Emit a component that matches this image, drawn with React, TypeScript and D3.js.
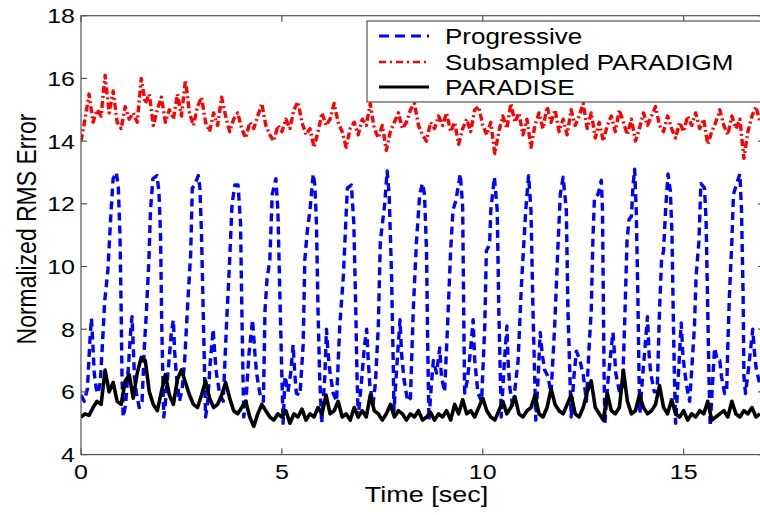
import React from 'react';
import * as d3 from 'd3';

// Progressive: key points (time in sec, normalized RMS error)
const progressiveTime = [
  0.0, 0.08, 0.16, 0.22, 0.26, 0.3, 0.33, 0.38, 0.42, 0.48, 0.55, 0.59, 0.67, 0.75, 0.8, 0.88, 0.93, 0.97, 1.0, 1.02, 1.05,
  1.11, 1.18, 1.24, 1.27, 1.3, 1.33, 1.38, 1.45, 1.52, 1.58, 1.63, 1.69, 1.73, 1.79, 1.89, 1.94, 1.98, 2.01, 2.06,
  2.09, 2.17, 2.25, 2.3, 2.33, 2.37, 2.45, 2.52, 2.58, 2.66, 2.73, 2.77, 2.83, 2.92, 2.96, 3.0, 3.05, 3.1,
  3.15, 3.22, 3.29, 3.33, 3.37, 3.45, 3.54, 3.62, 3.7, 3.76, 3.83, 3.91, 3.97, 4.01, 4.05,
  4.1, 4.18, 4.27, 4.33, 4.37, 4.45, 4.54, 4.58, 4.63, 4.7, 4.76, 4.85, 4.9, 4.95, 4.99, 5.03,
  5.08, 5.15, 5.22, 5.28, 5.32, 5.36, 5.45, 5.53, 5.57, 5.63, 5.7, 5.78, 5.82, 5.86, 5.9, 5.94, 5.99,
  6.07, 6.11, 6.15, 6.2, 6.28, 6.36, 6.44, 6.53, 6.59, 6.63, 6.73, 6.79, 6.84, 6.87, 6.9,
  6.98, 7.05, 7.11, 7.15, 7.19, 7.27, 7.33, 7.4, 7.45, 7.56, 7.62, 7.67, 7.73, 7.77, 7.79,
  7.86, 7.94, 7.98, 8.04, 8.13, 8.2, 8.27, 8.35, 8.43, 8.5, 8.55, 8.6, 8.63, 8.66,
  8.72, 8.77, 8.85, 8.93, 8.97, 9.05, 9.12, 9.2, 9.26, 9.33, 9.44, 9.5, 9.53, 9.55,
  9.62, 9.7, 9.76, 9.8, 9.88, 9.97, 10.05, 10.09, 10.17, 10.2, 10.29, 10.36, 10.4, 10.46,
  10.53, 10.6, 10.63, 10.67, 10.75, 10.88, 10.96, 11.07, 11.14, 11.2, 11.25, 11.32,
  11.38, 11.43, 11.48, 11.54, 11.62, 11.7, 11.79, 11.87, 11.93, 12.0, 12.08, 12.12, 12.2,
  12.27, 12.33, 12.42, 12.5, 12.58, 12.65, 12.7, 12.74, 12.78, 12.87, 12.95, 12.98, 13.0, 13.02, 13.04,
  13.12, 13.24, 13.28, 13.31, 13.41, 13.48, 13.53, 13.59, 13.64, 13.7, 13.74, 13.78, 13.82, 13.86, 13.89, 13.91,
  13.98, 14.05, 14.1, 14.14, 14.18, 14.27, 14.34, 14.4, 14.45, 14.5, 14.55, 14.61, 14.67, 14.71, 14.74, 14.77, 14.8,
  14.88, 14.94, 14.98, 15.03, 15.1, 15.15, 15.27, 15.31, 15.38, 15.43, 15.52, 15.56, 15.6, 15.63, 15.66,
  15.72, 15.77, 15.84, 15.9, 15.94, 16.02, 16.07, 16.1, 16.14, 16.2, 16.24, 16.31, 16.4, 16.44, 16.48, 16.5, 16.54,
  16.62, 16.72, 16.76, 16.8, 16.9,
];
const progressiveValue = [
  5.9, 5.7, 6.1, 7.6, 8.35, 7.4, 6.6, 6.1, 5.95, 6.3, 7.9, 8.9, 9.9, 11.8, 12.8, 13.0, 12.5, 11.0, 8.6, 6.5, 5.2,
  5.6, 6.8, 8.0, 8.4, 7.5, 6.5, 5.95, 5.5, 5.7, 7.5, 8.6, 10.2, 11.8, 12.8, 12.9, 12.4, 11.0, 8.1, 5.2,
  5.5, 6.7, 7.9, 8.3, 7.3, 6.6, 5.7, 6.1, 7.0, 8.9, 10.4, 12.5, 12.6, 12.9, 12.5, 11.0, 8.1, 5.2,
  5.6, 7.0, 8.0, 7.2, 6.6, 5.95, 5.7, 8.1, 10.2, 12.0, 12.6, 12.6, 11.4, 8.1, 5.2,
  5.6, 7.2, 8.3, 7.2, 6.6, 5.95, 5.7, 8.6, 9.6, 10.2, 12.3, 12.8, 11.8, 9.1, 7.0, 5.0,
  6.5, 6.0, 6.6, 7.5, 6.6, 5.95, 5.9, 7.5, 10.2, 11.1, 11.8, 12.95, 12.6, 11.4, 8.6, 6.5, 5.0,
  6.5, 8.0, 7.2, 6.6, 5.95, 5.7, 8.1, 9.7, 11.4, 12.5, 12.6, 11.4, 8.6, 6.5, 5.2,
  6.3, 7.4, 8.0, 7.0, 6.2, 5.6, 6.3, 8.1, 10.8, 12.0, 13.05, 12.3, 9.7, 7.0, 5.4,
  6.8, 8.3, 7.2, 6.4, 5.7, 5.8, 8.6, 10.8, 12.3, 12.65, 12.3, 10.5, 7.5, 5.1,
  6.2, 7.0, 6.6, 7.4, 6.5, 6.0, 8.0, 10.5, 11.8, 12.1, 12.95, 11.9, 8.0, 5.96,
  6.4, 7.4, 8.3, 7.0, 5.96, 5.7, 8.1, 10.5, 10.7, 11.8, 12.85, 11.8, 8.6, 5.2,
  6.8, 8.1, 7.0, 6.17, 5.5, 7.0, 9.35, 11.8, 12.9, 11.8, 8.6, 5.1,
  6.5, 7.9, 7.2, 6.7, 6.5, 5.96, 8.1, 10.6, 12.3, 12.85, 11.8, 8.6, 5.2,
  6.5, 7.3, 7.0, 6.55, 5.7, 7.5, 8.6, 10.8, 12.2, 12.3, 12.75, 11.8, 9.1, 6.5, 5.0,
  6.4, 7.9, 7.2, 6.6, 5.95, 6.2, 8.1, 10.8, 11.5, 11.6, 12.6, 13.1, 11.8, 9.1, 6.5, 5.3,
  6.5, 7.6, 8.4, 7.2, 6.6, 6.0, 6.0, 8.6, 10.2, 10.5, 11.8, 12.95, 12.4, 11.0, 8.6, 6.5, 5.0,
  6.8, 8.2, 7.2, 6.6, 6.0, 5.7, 8.1, 9.7, 10.8, 12.65, 12.5, 11.4, 8.6, 6.5, 4.9,
  6.3, 7.4, 7.0, 7.0, 6.5, 5.95, 6.0, 7.5, 9.1, 10.8, 12.3, 12.6, 12.95, 11.8, 9.1, 6.5, 5.95,
  6.8, 8.0, 7.3, 6.8, 6.2,
];

// Subsampled PARADIGM, one value every 0.1 sec from t = 0
const paradigmValue = [
  14.0, 14.7, 15.5, 14.6, 15.0, 14.8, 16.1, 14.9, 15.6, 14.6,
  14.4, 15.1, 14.7, 14.9, 14.6, 16.0, 15.2, 15.5, 14.5, 15.0,
  15.4, 14.6, 15.0, 14.7, 15.5, 14.8, 15.95, 14.9, 14.5, 15.1,
  15.4, 14.6, 14.3, 14.9, 14.5, 15.4, 14.8, 14.3, 14.7, 14.9,
  14.4, 14.1, 14.6, 14.4, 14.8, 15.2, 14.5, 14.2, 14.0, 14.5,
  14.3, 14.7, 14.4, 15.0, 15.25, 14.6, 14.2, 14.4, 13.8, 14.3,
  14.9, 14.5, 14.7, 15.2, 14.6, 14.3, 13.8, 14.4, 14.6, 14.2,
  14.7, 14.5, 15.2, 14.4, 14.1, 14.5, 13.7, 14.3, 14.6, 14.9,
  14.4, 14.6, 15.0, 15.2, 14.5, 14.2, 14.0, 14.6, 14.4, 14.8,
  14.5, 14.9, 14.3, 14.6, 13.9, 14.4, 14.7, 14.3, 15.0, 15.1,
  14.5, 14.2, 14.6, 13.6, 14.3, 14.8, 14.4, 15.2, 14.6, 14.9,
  14.2, 14.7, 13.8, 14.5, 14.9, 14.4, 15.1, 14.6, 15.0, 14.3,
  14.7, 14.2, 15.0, 14.5, 14.8, 15.2, 14.4, 14.9, 14.1, 14.6,
  14.0, 14.5, 14.8, 14.3, 15.0, 14.6, 14.2, 14.7, 14.0, 14.4,
  14.9, 14.5, 14.8, 15.1, 14.5, 14.3, 14.8, 14.4, 14.1, 14.6,
  14.3, 14.8, 14.5, 14.9, 14.4, 14.7, 13.9, 14.3, 14.6, 15.0,
  14.5, 14.2, 14.8, 14.4, 14.7, 13.45, 14.3, 14.8, 15.1, 14.6,
];

// PARADISE, one value every 0.1 sec from t = 0
const paradiseValue = [
  5.2, 5.3, 5.25, 5.5, 5.7, 5.6, 6.7, 6.0, 6.3, 5.7,
  5.6, 6.35, 6.55, 5.8, 6.6, 7.1, 7.0, 6.0, 5.6, 5.4,
  6.0, 6.55, 5.9, 5.6, 6.4, 6.7, 6.3, 5.9, 5.6, 5.5,
  5.9, 6.35, 5.8, 5.5, 5.6, 5.9, 6.3, 5.8, 5.4, 5.3,
  5.5, 5.7, 5.2, 4.9, 5.3, 5.6, 5.4, 5.2, 5.1, 5.3,
  5.2, 5.4, 5.0, 5.3, 5.2, 5.45, 5.1, 5.3, 5.2, 5.5,
  5.3, 5.9, 5.3, 5.4, 5.7, 5.2, 5.3, 5.1, 5.5, 5.2,
  5.4, 5.2, 5.9, 5.4, 5.3, 5.1, 5.3, 5.6, 5.2, 5.4,
  5.3, 5.1, 5.3, 5.2, 5.4, 5.1, 5.2, 5.35, 5.1, 5.3,
  5.2, 5.4, 5.1, 5.6, 5.3, 5.75, 5.3, 5.4, 5.2, 5.5,
  5.8, 5.4, 5.2, 5.1, 5.4, 5.7, 5.3, 5.5, 5.85, 5.3,
  5.2, 5.4, 5.5, 5.9, 5.3, 5.2, 5.5, 6.1, 5.6, 5.4,
  5.3, 5.6, 5.9, 5.3, 5.2, 5.5, 6.0, 6.35, 5.5, 5.3,
  5.1, 5.95, 5.4, 5.3, 5.5, 6.7, 5.7, 5.3, 5.4, 5.9,
  5.5, 5.3, 5.4, 5.6, 6.2, 5.5, 5.3, 5.75, 5.3, 5.2,
  5.4, 5.1, 5.3, 5.2, 5.4, 5.3, 5.7, 5.1, 5.2, 5.3,
  5.4, 5.2, 5.7, 5.3, 5.2, 5.4, 5.3, 5.5, 5.2, 5.3,
];

const xTicks = [0, 5, 10, 15];
const yTicks = [4, 6, 8, 10, 12, 14, 16, 18];
const legendLabels = ['Progressive', 'Subsampled PARADIGM', 'PARADISE'];

const W = 760;
const H = 515;
const font = 'Liberation Sans, Arial, Helvetica, sans-serif';
const axisColor = '#555';

export default function App() {
  const x = d3.scaleLinear().domain([0, 17]).range([81, 764]);
  const y = d3.scaleLinear().domain([4, 18]).range([454.6, 15.7]);
  const [x0, x1] = x.range();
  const [yb, yt] = y.range();

  const sampleTime = paradigmValue.map((_, i) => i / 10);

  const line = d3.line<[number, number]>()
    .x(d => x(d[0]))
    .y(d => y(d[1]));

  const progPath = line(progressiveTime.map((t, i) => [t, progressiveValue[i]]));
  const paradigmPath = line(sampleTime.map((t, i) => [t, paradigmValue[i]]));
  const paradisePath = line(sampleTime.map((t, i) => [t, paradiseValue[i]]));

  const styles = [
    { stroke: '#0000ff', dash: '8,5', width: 3.4 },
    { stroke: '#ff0000', dash: '7,3,2,3', width: 3.4 },
    { stroke: '#000000', dash: undefined, width: 3.6 },
  ];
  const legendRows = [36, 62, 87];

  return (
    <svg width={W} height={H} style={{ position: 'absolute', left: 0, top: 0, background: '#fff' }}>
      <defs>
        <clipPath id="plot">
          <rect x={x0} y={yt} width={x1 - x0} height={yb - yt} />
        </clipPath>
      </defs>
      <rect x={0} y={0} width={W} height={H} fill="#fff" />

      <g clipPath="url(#plot)" fill="none" strokeLinejoin="round">
        <path d={progPath ?? ''} stroke={styles[0].stroke} strokeWidth={styles[0].width} strokeDasharray={styles[0].dash} />
        <path d={paradigmPath ?? ''} stroke={styles[1].stroke} strokeWidth={styles[1].width} strokeDasharray={styles[1].dash} />
        <path d={paradisePath ?? ''} stroke={styles[2].stroke} strokeWidth={styles[2].width} />
      </g>

      {/* axes box */}
      <rect x={x0} y={yt} width={x1 - x0} height={yb - yt} fill="none" stroke={axisColor} strokeWidth={1.2} />

      {/* x ticks */}
      {xTicks.map(t => (
        <g key={'x' + t}>
          <line x1={x(t)} x2={x(t)} y1={yb} y2={yb - 6} stroke={axisColor} strokeWidth={1.2} />
          <line x1={x(t)} x2={x(t)} y1={yt} y2={yt + 6} stroke={axisColor} strokeWidth={1.2} />
          <text transform={`translate(${x(t)},479) scale(1,0.84)`} textAnchor="middle"
            fontFamily={font} fontSize={25} fill="#000">{t}</text>
        </g>
      ))}

      {/* y ticks */}
      {yTicks.map(t => (
        <g key={'y' + t}>
          <line x1={x0} x2={x0 + 6} y1={y(t)} y2={y(t)} stroke={axisColor} strokeWidth={1.2} />
          <line x1={x1} x2={x1 - 6} y1={y(t)} y2={y(t)} stroke={axisColor} strokeWidth={1.2} />
          <text transform={`translate(75,${y(t) + 7.5}) scale(1,0.84)`} textAnchor="end"
            fontFamily={font} fontSize={25} fill="#000">{t}</text>
        </g>
      ))}

      {/* axis labels */}
      <text transform={`translate(${(x0 + x1) / 2 + 4},502) scale(1,0.82)`} textAnchor="middle"
        fontFamily={font} fontSize={27} fill="#000">Time [sec]</text>
      <text transform={`translate(36,229) scale(1,0.82) rotate(-90)`} textAnchor="middle"
        fontFamily={font} fontSize={28} fill="#000">Normalized RMS Error</text>

      {/* legend */}
      <rect x={367} y={21} width={400} height={81} fill="#fff" stroke={axisColor} strokeWidth={1.2} />
      {legendLabels.map((label, i) => (
        <g key={label}>
          <line x1={379} x2={429} y1={legendRows[i]} y2={legendRows[i]}
            stroke={styles[i].stroke} strokeWidth={i === 1 ? 2.6 : 3}
            strokeDasharray={i === 0 ? '10,6' : i === 1 ? '7,4,2,4' : undefined} />
          <text transform={`translate(445,${legendRows[i] + 7.6}) scale(1,0.82)`}
            fontFamily={font} fontSize={26} fill="#000">{label}</text>
        </g>
      ))}
    </svg>
  );
}
